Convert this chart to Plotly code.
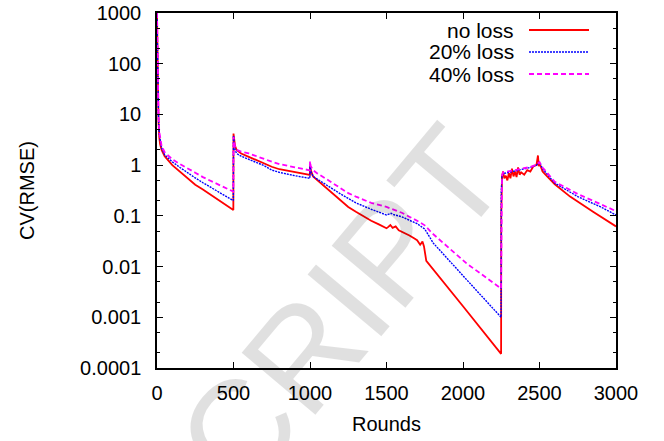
import plotly.graph_objects as go

# ---------------- data ----------------
red_x = [0, 2, 4, 6, 10, 15, 20, 30, 50, 100, 150, 200, 250, 300, 400, 499,
         500, 505, 510, 520, 550, 600, 650, 700, 750, 800, 900, 999,
         1000, 1005, 1020, 1050, 1100, 1200, 1250, 1300, 1400, 1450, 1490,
         1500, 1510, 1525, 1540, 1560, 1580, 1600, 1620, 1650, 1680, 1700, 1720, 1735, 1745, 1760,
         2000, 2249,
         2250, 2252, 2255, 2262, 2270, 2280, 2290, 2300, 2310, 2320, 2330, 2340, 2350, 2360, 2370,
         2380, 2400, 2420, 2440, 2460, 2480, 2490, 2495, 2500,
         2520, 2550, 2600, 2700, 2750, 2850, 3000]
red_y = [1000, 300, 60, 20, 7, 3.5, 2.6, 2.0, 1.5, 1.0, 0.75, 0.55, 0.41, 0.33, 0.21, 0.13,
         4.2, 3.0, 2.4, 2.0, 1.7, 1.46, 1.25, 1.07, 0.93, 0.83, 0.72, 0.64,
         1.0, 0.8, 0.6, 0.5, 0.37, 0.2, 0.15, 0.12, 0.08, 0.068, 0.058,
         0.057, 0.06, 0.066, 0.058, 0.062, 0.052, 0.049, 0.046, 0.041, 0.036, 0.033, 0.027, 0.031, 0.025, 0.013,
         0.00165, 0.00019,
         0.1, 0.4, 0.6, 0.75, 0.55, 0.62, 0.5, 0.7, 0.55, 0.85, 0.6, 0.75, 0.58, 0.9, 0.65,
         0.72, 0.65, 0.8, 0.75, 0.95, 1.0, 1.55, 0.95, 1.1,
         0.75, 0.6, 0.42, 0.24, 0.19, 0.12, 0.062]

blue_x = [0, 2, 4, 6, 10, 15, 20, 30, 50, 100, 150, 200, 250, 300, 400, 499,
          500, 505, 510, 520, 550, 600, 700, 750, 800, 900, 999,
          1000, 1005, 1020, 1050, 1100, 1200, 1250, 1300, 1400, 1500, 1530, 1550, 1600, 1700, 1750, 1806,
          2024, 2249,
          2250, 2255, 2262, 2280, 2300, 2330, 2360, 2400, 2440, 2480, 2500,
          2520, 2600, 2750, 2900, 3000]
blue_y = [1000, 300, 70, 25, 8, 4, 3, 2.2, 1.6, 1.16, 0.9, 0.7, 0.56, 0.45, 0.3, 0.2,
          3.8, 2.6, 2.0, 1.7, 1.5, 1.3, 0.98, 0.8, 0.72, 0.62, 0.55,
          1.05, 0.75, 0.6, 0.52, 0.42, 0.27, 0.22, 0.18, 0.135, 0.104, 0.112, 0.105, 0.096, 0.07, 0.055, 0.029,
          0.0055, 0.001,
          0.3, 0.6, 0.68, 0.7, 0.72, 0.78, 0.8, 0.85, 0.9, 1.0, 1.15,
          0.85, 0.44, 0.24, 0.15, 0.104]

mag_x = [0, 2, 4, 6, 10, 15, 20, 30, 50, 100, 150, 200, 250, 300, 400, 499,
         500, 505, 510, 520, 550, 600, 700, 750, 800, 900, 999,
         1000, 1005, 1020, 1050, 1100, 1200, 1250, 1300, 1400, 1500, 1600, 1700, 1750, 1800,
         2024, 2249,
         2250, 2255, 2262, 2280, 2300, 2330, 2360, 2400, 2440, 2480, 2500,
         2520, 2600, 2750, 2900, 3000]
mag_y = [1000, 320, 80, 30, 9, 4.5, 3.3, 2.4, 1.8, 1.3, 1.05, 0.85, 0.71, 0.58, 0.42, 0.30,
         3.6, 2.8, 2.3, 2.0, 1.85, 1.7, 1.3, 1.17, 1.05, 0.9, 0.79,
         1.2, 0.95, 0.8, 0.68, 0.55, 0.35, 0.28, 0.24, 0.18, 0.15, 0.115, 0.08, 0.065, 0.045,
         0.0115, 0.0037,
         0.3, 0.62, 0.72, 0.74, 0.75, 0.8, 0.82, 0.88, 0.92, 1.02, 1.15,
         0.9, 0.47, 0.27, 0.17, 0.124]

series_names = ["no loss", "20% loss", "40% loss"]
x_ticks = [0, 500, 1000, 1500, 2000, 2500, 3000]
y_ticks = [0.0001, 0.001, 0.01, 0.1, 1, 10, 100, 1000]
y_tick_text = ["0.0001", "0.001", "0.01", "0.1", "1", "10", "100", "1000"]
y_minor = [m * 10.0 ** e for e in range(-4, 3) for m in (2, 5)]

# ---------------- figure ----------------
FONT = "Liberation Sans, Arial, Helvetica, sans-serif"
W, H = 664, 441
L, R, T, B = 157, 48, 13, 73

styles = [
    dict(color="#ff0000", width=1.8, dash="solid"),
    dict(color="#0000ff", width=1.4, dash="2px,1px"),
    dict(color="#ff00ff", width=1.8, dash="5px,3px"),
]

fig = go.Figure()
for (xs, ys), name, st in zip([(red_x, red_y), (blue_x, blue_y), (mag_x, mag_y)], series_names, styles):
    fig.add_trace(go.Scatter(x=xs, y=ys, mode="lines", name=name, line=st, showlegend=False))

pw, ph = W - L - R, H - T - B

def px2paper(px, py):
    return (px - L) / pw, (H - B - py) / ph

# watermark (partial "ACCEPTED MANUSCRIPT" stamp)
wx, wy = px2paper(310, 345)
fig.add_annotation(text="SCRIPT", xref="paper", yref="paper", x=wx, y=wy,
                   xanchor="center", yanchor="middle",
                   showarrow=False, textangle=-50,
                   font=dict(family=FONT, size=140, color="rgba(0,0,0,0.12)"))

# custom gnuplot-style legend (text right-aligned, sample on the right)
legend_rows = [30, 52, 74]
for name, st, row in zip(series_names, styles, legend_rows):
    tx, ty = px2paper(516, row)
    fig.add_annotation(text=name, xref="paper", yref="paper", x=tx, y=ty,
                       xanchor="right", yanchor="middle", showarrow=False,
                       font=dict(family=FONT, size=21, color="black"))
    x0, y0 = px2paper(529, row)
    x1, _ = px2paper(589, row)
    fig.add_shape(type="line", xref="paper", yref="paper", x0=x0, x1=x1, y0=y0, y1=y0,
                  line=dict(color=st["color"], width=st["width"], dash=st["dash"]))

fig.update_layout(
    width=W, height=H,
    margin=dict(l=L, r=R, t=T, b=B, pad=0, autoexpand=False),
    plot_bgcolor="white", paper_bgcolor="white",
    font=dict(family=FONT, size=20, color="black"),
    showlegend=False,
)
fig.update_xaxes(
    range=[0, 3000], tickvals=x_ticks, ticktext=[str(v) for v in x_ticks],
    ticks="inside", ticklen=6, tickwidth=1, tickcolor="black",
    showline=True, linecolor="black", linewidth=1.5, mirror="ticks",
    showgrid=False, zeroline=False, automargin=False,
    title=dict(text="Rounds", font=dict(size=20), standoff=14),
    tickfont=dict(size=20), ticklabelstandoff=6,
)
fig.update_yaxes(
    type="log", range=[-4, 3], tickvals=y_ticks, ticktext=y_tick_text,
    ticks="inside", ticklen=6, tickwidth=1, tickcolor="black",
    minor=dict(tickvals=y_minor, ticks="inside", ticklen=3, tickcolor="black", showgrid=False),
    showline=True, linecolor="black", linewidth=1.5, mirror="ticks",
    showgrid=False, zeroline=False, automargin=False,
    title=dict(text="CV(RMSE)", font=dict(size=20), standoff=40),
    tickfont=dict(size=20), ticklabelstandoff=10,
)

fig.write_html("out.html")
